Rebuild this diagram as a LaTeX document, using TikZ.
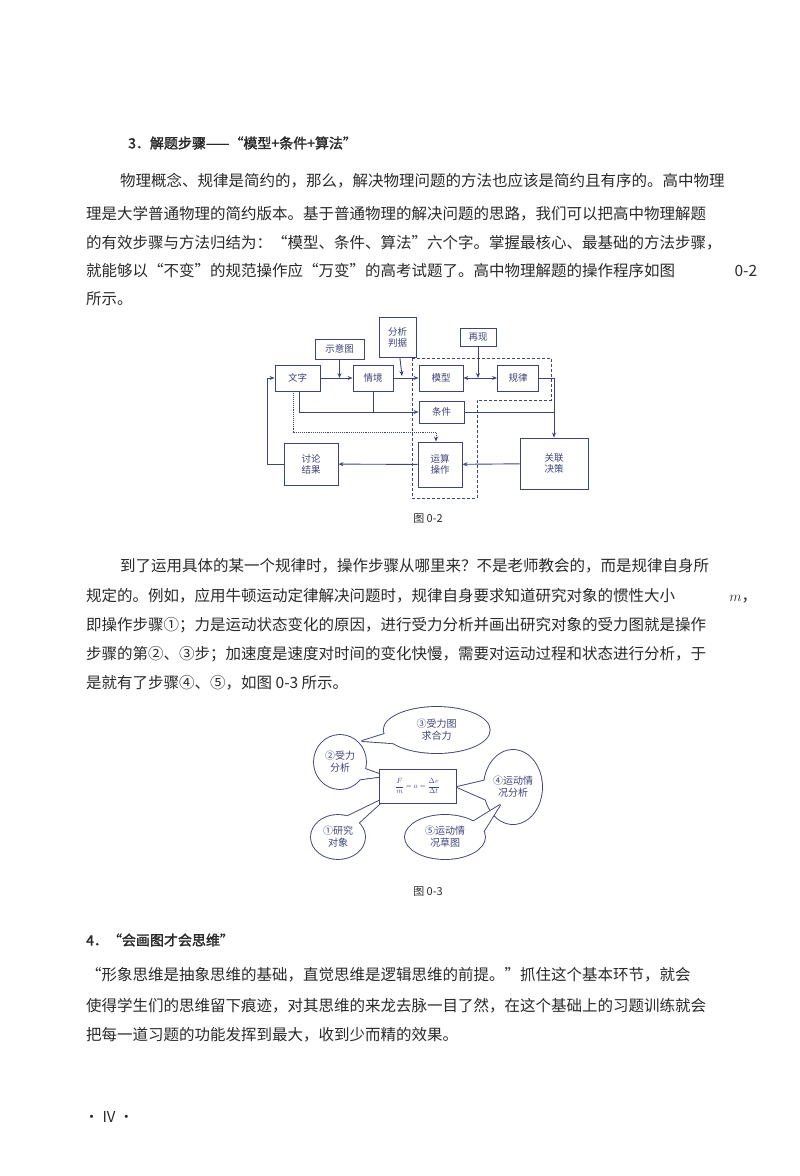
\documentclass[tikz,border=0pt]{standalone}
\usepackage{fontspec}
\setmainfont{Noto Sans CJK SC}[AutoFakeBold=2]
\usetikzlibrary{arrows.meta,calc}
\XeTeXlinebreaklocale "zh"
\XeTeXlinebreakskip=0pt plus 3pt
\definecolor{ink}{HTML}{2A2A2A}
\definecolor{dg}{HTML}{3E4478}
\tikzset{
  ln/.style={anchor=west,inner sep=0pt,font=\fontsize{15.5}{18}\selectfont,text=ink},
  bx/.style={draw=dg,line width=0.9pt,fill=white,font=\fontsize{9.5}{11}\selectfont,text=dg,align=center,inner sep=0pt},
  ar/.style={draw=dg,line width=0.9pt,-{Stealth[length=5pt,width=4pt]}},
  cn/.style={draw=dg,line width=0.9pt},
  figcap/.style={font=\fontsize{11}{13}\selectfont,text=ink},
  bt/.style={font=\fontsize{10}{12}\selectfont,text=dg,align=center,inner sep=0pt}
}
\newcommand{\FL}[2]{\makebox[#1pt][s]{#2}}
\newcommand{\bubble}[6]{% center rx ry tip a1 a2
  \draw[dg,line width=1.8pt] (#1) ellipse [x radius=#2pt,y radius=#3pt];
  \draw[dg,line width=1.8pt,line join=round] ($(#1)+(#5:#2pt and #3pt)$) -- (#4) -- ($(#1)+(#6:#2pt and #3pt)$);
  \fill[white] (#1) ellipse [x radius=#2pt,y radius=#3pt];
  \fill[white] ($(#1)+(#5:#2pt and #3pt)$) -- (#4) -- ($(#1)+(#6:#2pt and #3pt)$) -- (#1) -- cycle;
}
\begin{document}
\begin{tikzpicture}[x=1pt,y=-1pt]
\useasboundingbox (0,0) rectangle (800,1176);
\fill[white] (0,0) rectangle (800,1176);
% text
\node[ln,font=\fontsize{14}{16}\selectfont\bfseries] (h3) at (128,143) {3．解题步骤——“模型+条件+算法”};
\node[ln] (l1) at (120,181) {\FL{637}{物理概念、规律是简约的，那么，解决物理问题的方法也应该是简约且有序的。高中物理}};
\node[ln] (l2) at (86,214) {\FL{671}{理是大学普通物理的简约版本。基于普通物理的解决问题的思路，我们可以把高中物理解题}};
\node[ln] (l3) at (86,243) {\FL{671}{的有效步骤与方法归结为：“模型、条件、算法”六个字。掌握最核心、最基础的方法步骤，}};
\node[ln] (l4) at (86,271) {\FL{671}{就能够以“不变”的规范操作应“万变”的高考试题了。高中物理解题的操作程序如图 0-2}};
\node[ln] (l5) at (86,299) {所示。};
\node[figcap] (c2) at (428,519) {图 0-2};
\node[ln] (l6) at (120,566) {\FL{637}{到了运用具体的某一个规律时，操作步骤从哪里来？不是老师教会的，而是规律自身所}};
\node[ln] (l7) at (86,596) {\FL{671}{规定的。例如，应用牛顿运动定律解决问题时，规律自身要求知道研究对象的惯性大小 $m$，}};
\node[ln] (l8) at (86,625) {\FL{671}{即操作步骤①；力是运动状态变化的原因，进行受力分析并画出研究对象的受力图就是操作}};
\node[ln] (l9) at (86,654) {\FL{671}{步骤的第②、③步；加速度是速度对时间的变化快慢，需要对运动过程和状态进行分析，于}};
\node[ln] (l10) at (86,683) {是就有了步骤④、⑤，如图 0-3 所示。};
\node[figcap] (c3) at (428,892) {图 0-3};
\node[ln,font=\fontsize{14}{16}\selectfont\bfseries] (h4) at (86,940) {4．“会画图才会思维”};
\node[ln] (l11) at (86,975) {\FL{671}{“形象思维是抽象思维的基础，直觉思维是逻辑思维的前提。”抓住这个基本环节，就会}};
\node[ln] (l12) at (86,1006) {\FL{671}{使得学生们的思维留下痕迹，对其思维的来龙去脉一目了然，在这个基础上的习题训练就会}};
\node[ln] (l13) at (86,1035) {把每一道习题的功能发挥到最大，收到少而精的效果。};
\node[ln,font=\fontsize{15}{17}\selectfont] (pg) at (84,1117) {· IV ·};
% ---- figure 0-2
\draw[dg,densely dashed,line width=0.6pt] (412,358) -- (551,358) -- (551,400) -- (477,400) -- (477,498) -- (412,498) -- cycle;
\node[bx,minimum width=45pt,minimum height=26pt] (wz) at (297.5,378) {文字};
\node[bx,minimum width=40pt,minimum height=26pt] (qj) at (373,378) {情境};
\node[bx,minimum width=44pt,minimum height=26pt] (mx) at (441,378) {模型};
\node[bx,minimum width=41pt,minimum height=26pt] (gl) at (518,378) {规律};
\node[bx,minimum width=49pt,minimum height=20pt] (sy) at (339.5,349) {示意图};
\node[bx,minimum width=37pt,minimum height=40pt] (fx) at (397.5,337) {分析\\判据};
\node[bx,minimum width=36pt,minimum height=18pt] (zx) at (478,337) {再现};
\node[bx,minimum width=45pt,minimum height=22pt] (tj) at (441.5,412) {条件};
\node[bx,minimum width=44pt,minimum height=45pt] (ys) at (440,464.5) {运算\\操作};
\node[bx,minimum width=54pt,minimum height=42pt] (tl) at (311,464) {讨论\\结果};
\node[bx,minimum width=68pt,minimum height=51pt] (gx) at (554,463.5) {关联\\决策};
\draw[ar] (wz) -- (qj);
\draw[ar] (sy) -- (sy|-qj.center);
\draw[ar] (qj) -- (mx);
\draw[ar] (fx) -- (402,376);
\draw[draw=dg,line width=0.9pt,{Stealth[length=5pt,width=4pt]}-{Stealth[length=5pt,width=4pt]}] (mx) -- (gl);
\draw[ar] (zx) -- (zx|-gl.center);
\draw[ar] (gl.east) -- (554,378) -- (gx.north);
\draw[ar] (wz.south-|299,0) -- (299,412) -- (tj.west);
\draw[cn] (qj.south) -- (373,412);
\draw[cn] (tj.east) -- (554,412);
\draw[ar] (gx) -- (ys);
\draw[ar] (ys) -- (tl);
\draw[ar] (tl.west) -- (267,464) -- (267,378) -- (wz.west);
\draw[dg,densely dotted,line width=0.9pt,-{Stealth[length=5pt,width=4pt]}] (wz.south-|293,0) -- (293,432) -- (436,432) -- (ys.north-|436,0);
% ---- figure 0-3
\coordinate (c3b) at (436.7,730);
\coordinate (c2b) at (340,762);
\coordinate (c4b) at (513,787);
\coordinate (c1b) at (338,837);
\coordinate (c5b) at (445,837);
\coordinate (t3) at (362,741);
\coordinate (t2) at (385,776);
\coordinate (t4) at (457,787);
\coordinate (t1) at (387,797);
\coordinate (t5) at (500,805);
\bubble{c3b}{53}{23}{t3}{190}{215}
\bubble{c2b}{26}{27}{t2}{-15}{-40}
\bubble{c4b}{29}{37}{t4}{170}{200}
\bubble{c1b}{27}{22}{t1}{40}{70}
\bubble{c5b}{40}{22}{t5}{15}{45}
\node[draw=dg,line width=1pt,fill=white,minimum width=77pt,minimum height=34pt,inner sep=0pt,text=dg] (fm) at (417.5,786) {\scalebox{0.75}{$\displaystyle\frac{F}{m}=a=\frac{\Delta v}{\Delta t}$}};
\node[bt] (b3) at (c3b) {③受力图\\求合力};
\node[bt] (b2) at (c2b) {②受力\\分析};
\node[bt] (b4) at (c4b) {④运动情\\况分析};
\node[bt] (b1) at (c1b) {①研究\\对象};
\node[bt] (b5) at (c5b) {⑤运动情\\况草图};
\end{tikzpicture}
\end{document}
